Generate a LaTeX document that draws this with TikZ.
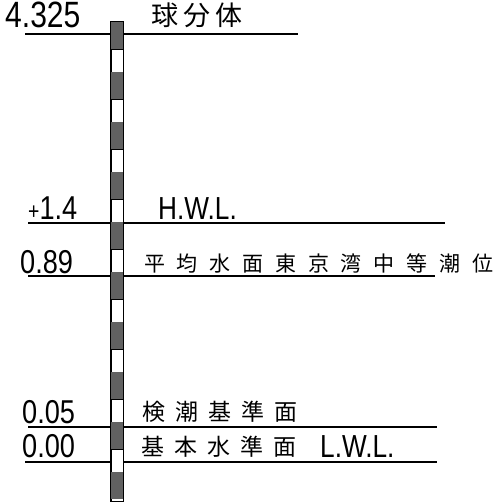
\documentclass[tikz,border=0pt]{standalone}
\usepackage{fontspec}
\newfontfamily\numfont{Liberation Sans}
\newfontfamily\cjk{Noto Sans CJK JP}
\newcommand{\gapped}[2]{\def\mygap{\kern#1pt}\gappedi#2\relax}
\def\gappedi#1#2\relax{#1\ifx\relax#2\relax\else\mygap\gappedi#2\relax\fi}
\newcommand{\tall}[1]{\scalebox{0.97}[1.18]{#1}}
\tikzset{
  lvl/.style={line width=1.2pt},
  num/.style={anchor=base west, inner sep=0pt, font=\numfont\fontsize{28}{28}\selectfont},
  jp/.style={anchor=base west, inner sep=0pt, font=\cjk\fontsize{23}{23}\selectfont}
}
\begin{document}
\begin{tikzpicture}[x=1pt,y=-1pt]
\useasboundingbox (0,0) rectangle (496,502);
% pole outline
\node (pole) [draw, line width=0.8pt, minimum width=12pt, minimum height=479pt, inner sep=0pt] at (117,261.5) {};
% level coordinates
\coordinate (l1) at (25,34);   \coordinate (r1) at (298,34);
\coordinate (l2) at (28,223);  \coordinate (r2) at (445,223);
\coordinate (l3) at (28,276);  \coordinate (r3) at (435,276);
\coordinate (l4) at (28,427);  \coordinate (r4) at (437,427);
\coordinate (l5) at (25,462);  \coordinate (r5) at (437,462);
\foreach \i in {1,...,5}{
  \draw[lvl] (l\i) -- (l\i -| pole.west);
  \draw[lvl] (l\i -| pole.east) -- (r\i);
}
% pole segments
\foreach \k in {0,...,9}{
  \pgfmathsetmacro{\ya}{22+50*\k}
  \pgfmathsetmacro{\yb}{\ya+27}
  \pgfmathsetmacro{\yc}{\ya+50}
  \fill[black!62] (111,\ya) rectangle (123,\yb);
  \ifnum\k<9 \draw[line width=0.8pt] (111,\yb) -- (123,\yb); \draw[line width=0.8pt] (111,\yc) -- (123,\yc);\fi
}
\draw[line width=0.8pt] (pole.north west) rectangle (pole.south east);
% labels
\node[num, font=\numfont\fontsize{31}{31}\selectfont] (t1) at (5,28) {\tall{4.325}};
\node[jp, font=\cjk\fontsize{27}{27}\selectfont] (j1) at (151,26) {\gapped{5}{球分体}};
\node[num] (t2) at (28,220) {\tall{{\fontsize{20}{20}\selectfont +}1.4}};
\node[num, font=\numfont\fontsize{27}{27}\selectfont] (h) at (158,220) {\tall{H.W.L.}};
\node[num] (t3) at (20,273) {\tall{0.89}};
\node[jp, font=\cjk\fontsize{21}{21}\selectfont] (j3) at (144,271) {\gapped{11.8}{平均水面東京湾中等潮位}};
\node[num] (t4) at (22,423) {\tall{0.05}};
\node[jp] (j4) at (142,420) {\gapped{10}{検潮基準面}};
\node[num] (t5) at (22,457) {\tall{0.00}};
\node[jp] (j5) at (141,455) {\gapped{10}{基本水準面}};
\node[num, font=\numfont\fontsize{27}{27}\selectfont] (lw) at (320,457) {\tall{L.W.L.}};
\end{tikzpicture}
\end{document}
